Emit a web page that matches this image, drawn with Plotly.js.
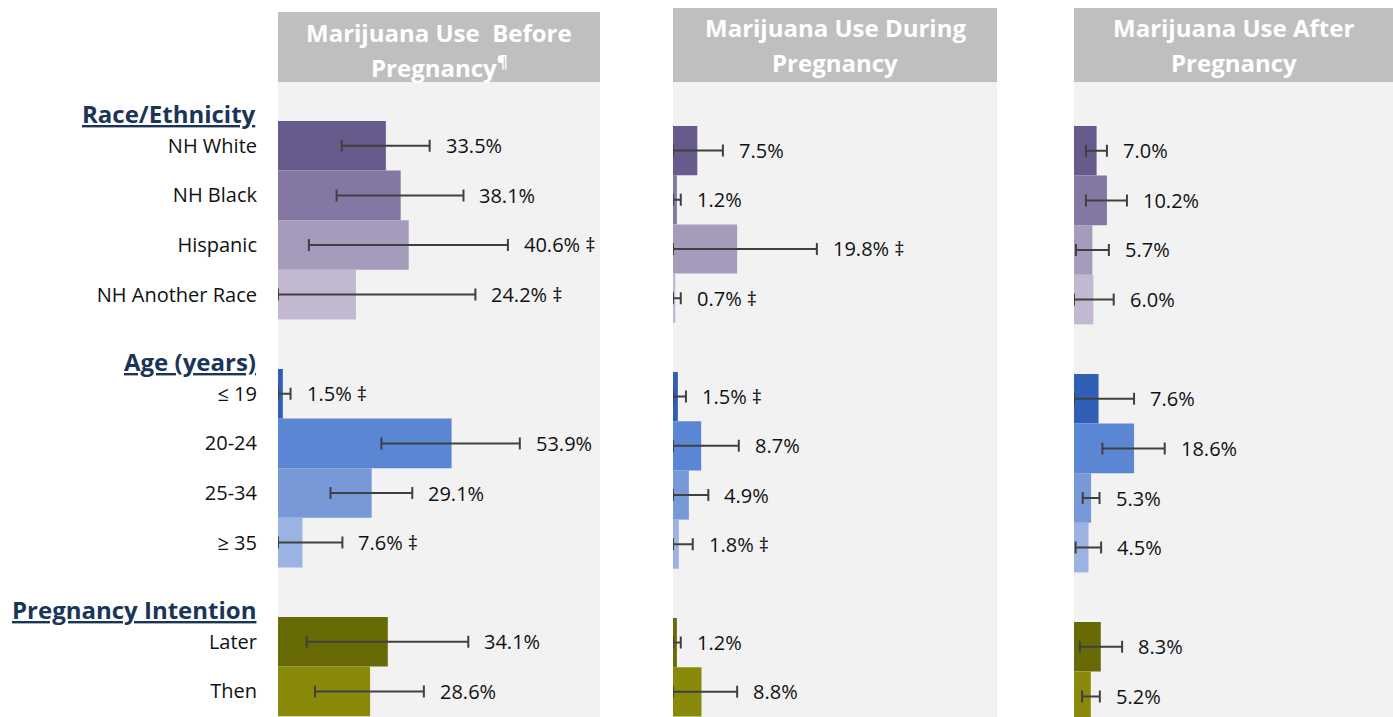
<!DOCTYPE html>
<html>
<head>
<meta charset="utf-8">
<script src="https://cdn.plot.ly/plotly-3.0.1.min.js"></script>
<style>html,body{margin:0;padding:0;background:#fff;}#chart{width:1393px;height:717px;}</style>
</head>
<body>
<div id="chart"></div>
<script>
// ---- Data ----
const groupNames = ['Race/Ethnicity', 'Age (years)', 'Pregnancy Intention'];
const groupMembers = [
  ['NH White', 'NH Black', 'Hispanic', 'NH Another Race'],
  ['≤ 19', '20-24', '25-34', '≥ 35'],
  ['Later', 'Then']
];
const panelTitleLine1 = ['Marijuana Use  Before', 'Marijuana Use During', 'Marijuana Use After'];
const panelTitleLine2 = ['Pregnancy<sup>¶</sup>', 'Pregnancy', 'Pregnancy'];

const beforeVal  = [33.5, 38.1, 40.6, 24.2, 1.5, 53.9, 29.1, 7.6, 34.1, 28.6];
const beforeLow  = [19.8, 18.2, 9.6, 0.0, 0.0, 32.1, 16.3, 0.0, 8.9, 11.5];
const beforeHigh = [47.1, 57.6, 71.4, 61.3, 3.9, 75.1, 41.7, 20.0, 59.1, 45.3];
const beforeFlag = ['', '', '‡', '‡', '‡', '', '', '‡', '', ''];

const duringVal  = [7.5, 1.2, 19.8, 0.7, 1.5, 8.7, 4.9, 1.8, 1.2, 8.8];
const duringLow  = [0.0, 0.0, 0.0, 0.0, 0.0, 0.0, 0.0, 0.0, 0.0, 0.0];
const duringHigh = [15.4, 2.4, 44.4, 2.4, 4.0, 20.3, 10.9, 6.1, 2.4, 19.8];
const duringFlag = ['', '', '‡', '‡', '‡', '', '', '‡', '', ''];

const afterVal  = [7.0, 10.2, 5.7, 6.0, 7.6, 18.6, 5.3, 4.5, 8.3, 5.2];
const afterLow  = [3.7, 3.7, 0.6, 0.0, 0.0, 8.8, 2.7, 0.5, 1.8, 2.5];
const afterHigh = [10.2, 16.4, 10.8, 12.3, 18.6, 28.1, 7.9, 8.4, 14.9, 8.0];
const afterFlag = ['', '', '', '', '', '', '', '', '', ''];

// ---- Styles ----
const barColors = ['#675a8d', '#8577a3', '#a59bbb', '#c2b9d1',
                   '#2e5fb5', '#5b86d4', '#7899d8', '#9bb3e2',
                   '#686a06', '#8a8a0a'];
const FONT = 'Open Sans, Lato, sans-serif';
const W = 1393, H = 717;

// row slots: groups separated by one empty slot
const categories = [];
const rowPos = [];
const groupStart = [];
let slot = 0;
groupMembers.forEach((members) => {
  groupStart.push(slot);
  members.forEach(m => { categories.push(m); rowPos.push(slot); slot++; });
  slot++;
});

const panels = [
  {val: beforeVal, lo: beforeLow, hi: beforeHigh, flag: beforeFlag,
   px: [278, 600], hdrTop: 12, rowTop: 121, pitch: 49.6, xmax: 100},
  {val: duringVal, lo: duringLow, hi: duringHigh, flag: duringFlag,
   px: [673, 997], hdrTop: 8, rowTop: 126, pitch: 49.2, xmax: 100},
  {val: afterVal, lo: afterLow, hi: afterHigh, flag: afterFlag,
   px: [1074, 1393], hdrTop: 8, rowTop: 126, pitch: 49.6, xmax: 98.8}
];
const plotTop = 82;

const traces = [];
const layout = {
  width: W, height: H,
  margin: {l: 0, r: 0, t: 0, b: 0},
  paper_bgcolor: '#ffffff',
  plot_bgcolor: '#f2f2f2',
  showlegend: false,
  hovermode: false,
  font: {family: FONT, size: 20, color: '#000000'},
  shapes: [],
  annotations: []
};

panels.forEach((p, k) => {
  const n = k === 0 ? '' : String(k + 1);
  const xa = 'x' + n, ya = 'y' + n;
  traces.push({
    type: 'bar', orientation: 'h',
    x: p.val, y: rowPos, width: 1,
    xaxis: xa, yaxis: ya,
    marker: {color: barColors, line: {width: 0}},
    error_x: {
      type: 'data', symmetric: false,
      array: p.val.map((v, i) => +(p.hi[i] - v).toFixed(2)),
      arrayminus: p.val.map((v, i) => +(v - p.lo[i]).toFixed(2)),
      color: '#404040', thickness: 2, width: 6
    }
  });
  const yTop = -0.5 - (p.rowTop - plotTop) / p.pitch;
  const yBot = yTop + (H - plotTop) / p.pitch;
  layout['xaxis' + n] = {
    domain: [p.px[0] / W, p.px[1] / W], range: [0, p.xmax],
    visible: false, fixedrange: true, anchor: ya
  };
  const yaxis = {
    domain: [0, 1 - plotTop / H], range: [yBot, yTop],
    showgrid: false, zeroline: false, showline: false,
    anchor: xa, fixedrange: true
  };
  if (k === 0) {
    yaxis.tickmode = 'array';
    yaxis.tickvals = rowPos;
    yaxis.ticktext = categories;
    yaxis.ticks = '';
    yaxis.ticklabelstandoff = 20;
    yaxis.tickfont = {family: FONT, size: 20, color: '#111111'};
  } else {
    yaxis.showticklabels = false;
  }
  layout['yaxis' + n] = yaxis;

  // header box
  layout.shapes.push({
    type: 'rect', xref: xa + ' domain', yref: 'paper',
    x0: 0, x1: 1, y0: 1 - plotTop / H, y1: 1 - p.hdrTop / H,
    fillcolor: '#bfbfbf', line: {width: 0}, layer: 'below'
  });
  layout.annotations.push({
    xref: xa + ' domain', yref: 'paper', x: 0.5,
    y: 1 - (p.hdrTop + 20) / H,
    xanchor: 'center', yanchor: 'middle', showarrow: false,
    text: '<b>' + panelTitleLine1[k] + '</b>',
    font: {family: FONT, size: 24, color: '#ffffff'}
  });
  layout.annotations.push({
    xref: xa + ' domain', yref: 'paper', x: 0.5,
    y: 1 - (p.hdrTop + 54) / H,
    xanchor: 'center', yanchor: 'middle', showarrow: false,
    text: '<b>' + panelTitleLine2[k] + '</b>',
    font: {family: FONT, size: 24, color: '#ffffff'}
  });

  // value labels
  p.val.forEach((v, i) => {
    layout.annotations.push({
      xref: xa, yref: ya, x: p.hi[i], y: rowPos[i],
      xanchor: 'left', yanchor: 'middle', xshift: 14, showarrow: false,
      text: v.toFixed(1) + '%' + (p.flag[i] ? ' ' + p.flag[i] : ''),
      font: {family: FONT, size: 20, color: '#111111'}
    });
  });
});

// group headings
groupNames.forEach((g, j) => {
  layout.annotations.push({
    xref: 'paper', yref: 'y', x: 258 / W, y: groupStart[j] - 0.66,
    xanchor: 'right', yanchor: 'middle', showarrow: false,
    text: '<b><u>' + g + '</u></b>',
    font: {family: FONT, size: 24, color: '#1a3557'}
  });
});

Plotly.newPlot('chart', traces, layout, {staticPlot: true, displayModeBar: false});
</script>
</body>
</html>
